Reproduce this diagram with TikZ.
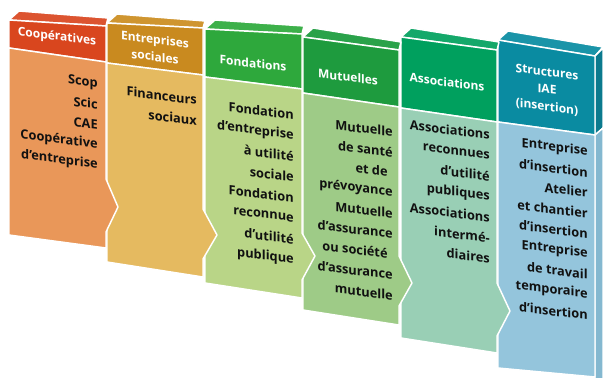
\documentclass[tikz,border=0pt]{standalone}
\usepackage{fontspec}
\setmainfont{Open Sans}
\definecolor{h1}{HTML}{D9461E}\definecolor{b1}{HTML}{E99759}\definecolor{l1}{HTML}{DC5430}
\definecolor{h2}{HTML}{C98A1F}\definecolor{b2}{HTML}{E5BA60}\definecolor{l2}{HTML}{CF9530}
\definecolor{h3}{HTML}{2EA83C}\definecolor{b3}{HTML}{B9D587}\definecolor{l3}{HTML}{3DB04A}
\definecolor{h4}{HTML}{1E9B3E}\definecolor{b4}{HTML}{9ECB87}\definecolor{l4}{HTML}{2AA24A}
\definecolor{h5}{HTML}{00A05E}\definecolor{b5}{HTML}{99CFB5}\definecolor{l5}{HTML}{14A86A}
\definecolor{h6}{HTML}{0A8BA1}\definecolor{b6}{HTML}{94C5DC}\definecolor{l6}{HTML}{1A94A8}
\definecolor{s6h}{HTML}{0B7A8E}\definecolor{s6b}{HTML}{84B8D0}
\definecolor{ink}{HTML}{111111}
\begin{document}
\begin{tikzpicture}[x=0.75pt,y=-0.75pt,
  edge/.style={draw=white,line width=1.1pt,line join=round},
  bodyline/.style={anchor=east,yslant=-0.125,inner sep=0pt,text=ink,font=\bfseries\fontsize{9.6}{11}\selectfont},
  headtext/.style={yslant=-0.125,align=center,inner sep=0pt,text=white,font=\bfseries\fontsize{9}{13}\selectfont}]
\useasboundingbox (0,0) rectangle (603,378);
% ---- column 6
\filldraw[fill=l6,edge] (498,40) -- (508,31) -- (603,47) -- (595,56) -- cycle;
\filldraw[fill=s6h,edge] (595,56) -- (603,48) -- (603,128) -- (595,135) -- cycle;
\filldraw[fill=s6b,edge] (595,135) -- (603,128) -- (603,379) -- (595,379) -- cycle;
\filldraw[fill=h6,edge] (498,40) -- (595,56) -- (595,135) -- (498,122) -- cycle;
\filldraw[fill=b6,edge] (498,122) -- (595,135) -- (595,377) -- (498,368) -- cycle;
% ---- column 5
\filldraw[fill=l5,edge] (401,37) -- (411,28) -- (499,42) -- (497,50) -- cycle;
\filldraw[fill=h5,edge] (401,37) -- (497,50) -- (497,122) -- (401,108) -- cycle;
\filldraw[fill=b5,edge] (401,108) -- (497,122) -- (497,283) -- (510,311) -- (497,336) -- (497,353) -- (401,338) -- cycle;
% ---- column 4
\filldraw[fill=l4,edge] (303,37) -- (313,28) -- (401,42) -- (399,50) -- cycle;
\filldraw[fill=h4,edge] (303,37) -- (399,50) -- (399,107) -- (303,93) -- cycle;
\filldraw[fill=b4,edge] (303,93) -- (399,107) -- (399,256) -- (412,283) -- (399,306) -- (399,325) -- (303,310) -- cycle;
% ---- column 3
\filldraw[fill=l3,edge] (205,29) -- (215,20) -- (304,26) -- (302,34) -- cycle;
\filldraw[fill=h3,edge] (205,29) -- (302,34) -- (302,89) -- (205,77) -- cycle;
\filldraw[fill=b3,edge] (205,77) -- (302,89) -- (302,233) -- (315,256) -- (302,280) -- (302,298) -- (205,283) -- cycle;
% ---- column 2
\filldraw[fill=l2,edge] (107,23) -- (117,14) -- (205,21) -- (203,28) -- cycle;
\filldraw[fill=h2,edge] (107,23) -- (203,28) -- (203,75) -- (107,63) -- cycle;
\filldraw[fill=b2,edge] (107,63) -- (203,75) -- (203,209) -- (217,235) -- (203,259) -- (203,277) -- (107,262) -- cycle;
% ---- column 1
\filldraw[fill=l1,edge] (9,20) -- (19,11) -- (108,18) -- (106,26) -- cycle;
\filldraw[fill=h1,edge] (9,20) -- (106,26) -- (106,62) -- (9,48) -- cycle;
\filldraw[fill=b1,edge] (9,48) -- (106,62) -- (106,179) -- (118,207) -- (106,232) -- (106,248) -- (9,235) -- cycle;
% ---- headers
\node[headtext] (t1) at (57,37) {Coopératives};
\node[headtext] (t2) at (155,48) {Entreprises\\sociales};
\node[headtext] (t3) at (253,63) {Fondations};
\node[headtext] (t4) at (348,77) {Mutuelles};
\node[headtext] (t5) at (447,82) {Associations};
\node[headtext] (t6) at (547,90) {Structures\\IAE\\(insertion)};
% ---- body texts
\foreach \t [count=\i] in {Scop,Scic,CAE,Coopérative,d’entreprise}
  \node[bodyline] (a\i) at (98,{84+(\i-1)*20.25}) {\t};
\foreach \t [count=\i] in {Financeurs,sociaux}
  \node[bodyline] (b\i) at (197,{100+(\i-1)*20.5}) {\t};
\foreach \t [count=\i] in {Fondation,d’entreprise,à utilité,sociale,Fondation,reconnue,d’utilité,publique}
  \node[bodyline] (c\i) at (294,{115+(\i-1)*20.7}) {\t};
\foreach \t [count=\i] in {Mutuelle,de santé,et de\hspace*{0.4em},prévoyance,Mutuelle,d’assurance,ou société\hspace*{0.4em},d’assurance,mutuelle}
  \node[bodyline] (d\i) at (393,{132+(\i-1)*20.4}) {\t};
\foreach \t [count=\i] in {Associations,reconnues,d’utilité,publiques,Associations,intermé-,diaires}
  \node[bodyline] (e\i) at (490,{135+(\i-1)*20.6}) {\t};
\foreach \t [count=\i] in {Entreprise,d’insertion,Atelier,et chantier,d’insertion,Entreprise,de travail,temporaire,d’insertion}
  \node[bodyline] (f\i) at (588,{152+(\i-1)*20.4}) {\t};
\end{tikzpicture}
\end{document}
